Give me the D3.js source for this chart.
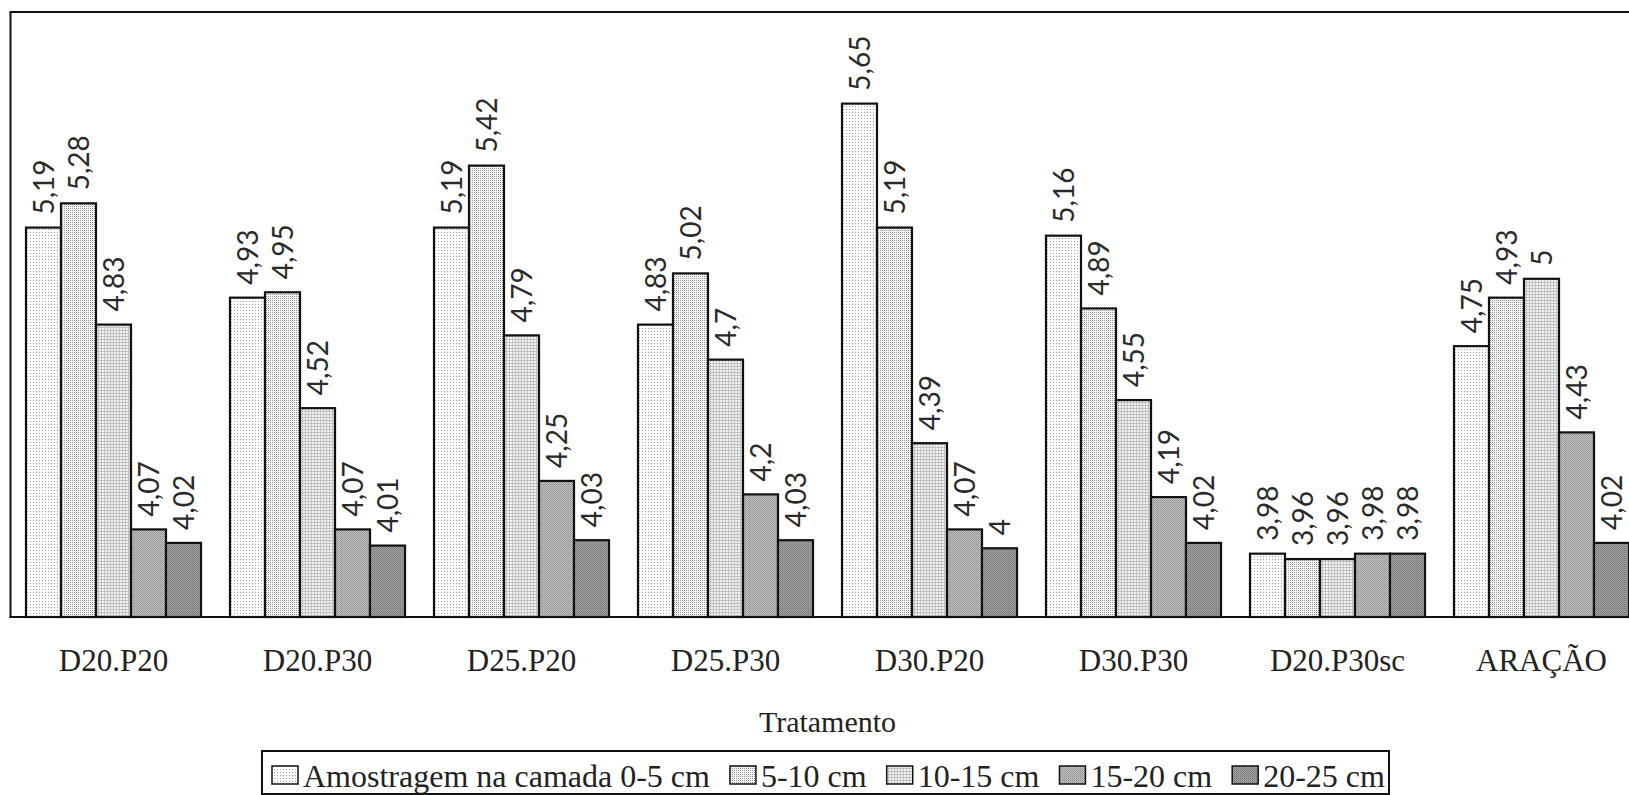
<!DOCTYPE html>
<html>
<head>
<meta charset="utf-8">
<script src="https://cdn.jsdelivr.net/npm/d3@7"></script>
<style>
  body { margin: 0; background: #fff; }
  svg { display: block; }
</style>
</head>
<body>
<svg id="chart" width="1629" height="795"></svg>
<script>
// data
var categories = ["D20.P20", "D20.P30", "D25.P20", "D25.P30", "D30.P20", "D30.P30", "D20.P30sc", "ARAÇÃO"];
var seriesNames = ["Amostragem na camada 0-5 cm", "5-10 cm", "10-15 cm", "15-20 cm", "20-25 cm"];
var layer0_5 = [5.19, 4.93, 5.19, 4.83, 5.65, 5.16, 3.98, 4.75];
var layer5_10 = [5.28, 4.95, 5.42, 5.02, 5.19, 4.89, 3.96, 4.93];
var layer10_15 = [4.83, 4.52, 4.79, 4.70, 4.39, 4.55, 3.96, 5.00];
var layer15_20 = [4.07, 4.07, 4.25, 4.20, 4.07, 4.19, 3.98, 4.43];
var layer20_25 = [4.02, 4.01, 4.03, 4.03, 4.00, 4.02, 3.98, 4.02];
var xTitle = "Tratamento";

var seriesValues = [layer0_5, layer5_10, layer10_15, layer15_20, layer20_25];

var svg = d3.select("#chart"),
    plotTop = 12, plotBottom = 617, plotLeft = 10.5;

var x = d3.scaleBand()
    .domain(categories)
    .range([plotLeft + 1, plotLeft + 1 + 8 * 204])
    .paddingInner(0.142)
    .paddingOuter(0.071);

var xs = d3.scaleBand()
    .domain(d3.range(seriesNames.length))
    .range([0, x.bandwidth()]);

var y = d3.scaleLinear()
    .domain([3.745, 5.99])
    .range([plotBottom, plotTop]);

// fill patterns (halftone-ish greys)
var defs = svg.append("defs");
function pat(id, size, bg, dots) {
  var p = defs.append("pattern")
      .attr("id", id)
      .attr("patternUnits", "userSpaceOnUse")
      .attr("width", size).attr("height", size);
  p.append("rect").attr("width", size).attr("height", size).attr("fill", bg);
  dots.forEach(function(d) {
    p.append("rect").attr("x", d[0]).attr("y", d[1])
        .attr("width", d[2]).attr("height", d[3]).attr("fill", d[4]);
  });
}
pat("p0", 3, "#fff", [[1, 1, 1, 1, "#a0a0a0"]]);
pat("p1", 2, "#fff", [[0, 0, 1, 1, "#8e8e8e"], [1, 1, 1, 1, "#eaeaea"]]);
pat("p2", 3, "#f4f4f4", [[0, 0, 3, 1, "#c0c0c0"], [0, 0, 1, 3, "#c0c0c0"]]);
pat("p3", 2, "#c4c4c4", [[0, 0, 1, 1, "#8a8a8a"], [1, 1, 1, 1, "#a0a0a0"]]);
pat("p4", 2, "#a8a8a8", [[0, 0, 1, 1, "#6e6e6e"], [1, 1, 1, 1, "#848484"]]);

// bars
var groups = svg.append("g").selectAll("g")
  .data(categories)
  .enter().append("g")
    .attr("transform", function(d) { return "translate(" + x(d) + ",0)"; });

groups.selectAll("rect")
  .data(function(d, i) { return seriesValues.map(function(s, j) { return {s: j, v: s[i]}; }); })
  .enter().append("rect")
    .attr("x", function(d) { return xs(d.s); })
    .attr("y", function(d) { return y(d.v); })
    .attr("width", xs.bandwidth())
    .attr("height", function(d) { return plotBottom - y(d.v); })
    .attr("fill", function(d) { return "url(#p" + d.s + ")"; })
    .attr("stroke", "#111")
    .attr("stroke-width", 2.2);

groups.selectAll("text")
  .data(function(d, i) { return seriesValues.map(function(s, j) { return {s: j, v: s[i]}; }); })
  .enter().append("text")
    .attr("transform", function(d) {
      return "translate(" + (xs(d.s) + xs.bandwidth() / 2) + "," + (y(d.v) - 13) + ") rotate(-90)";
    })
    .attr("dy", "0.36em")
    .attr("font-family", "Lato, 'Open Sans', sans-serif")
    .attr("font-size", 28)
    .attr("fill", "#2a2a2a")
    .text(function(d) { return String(d.v).replace(".", ","); });

// frame
var frame = svg.append("g").attr("stroke", "#111").attr("stroke-width", 2);
frame.append("line").attr("x1", plotLeft).attr("x2", plotLeft).attr("y1", plotTop).attr("y2", plotBottom + 1);
frame.append("line").attr("x1", plotLeft - 1).attr("x2", 1629).attr("y1", plotTop).attr("y2", plotTop);
frame.append("line").attr("x1", plotLeft - 1).attr("x2", 1629).attr("y1", plotBottom).attr("y2", plotBottom);

// category labels
svg.append("g").selectAll("text")
  .data(categories)
  .enter().append("text")
    .attr("x", function(d) { return x(d) + x.bandwidth() / 2; })
    .attr("y", 671)
    .attr("text-anchor", "middle")
    .attr("font-family", "'Liberation Serif', 'Times New Roman', serif")
    .attr("font-size", 31)
    .attr("fill", "#222")
    .text(function(d) { return d; });

svg.append("text")
    .attr("x", (x.range()[0] + x.range()[1]) / 2)
    .attr("y", 732)
    .attr("text-anchor", "middle")
    .attr("font-family", "'Liberation Serif', 'Times New Roman', serif")
    .attr("font-size", 30)
    .attr("fill", "#222")
    .text(xTitle);

// legend
var legend = svg.append("g");
legend.append("rect")
    .attr("x", 262).attr("y", 751)
    .attr("width", 1127).attr("height", 43)
    .attr("fill", "none").attr("stroke", "#111").attr("stroke-width", 2);

var lx = 272;
seriesNames.forEach(function(name, i) {
  legend.append("rect")
      .attr("x", lx).attr("y", 766)
      .attr("width", 26).attr("height", 18)
      .attr("fill", "url(#p" + i + ")")
      .attr("stroke", "#111").attr("stroke-width", 1.5);
  var t = legend.append("text")
      .attr("x", lx + 31).attr("y", 787)
      .attr("font-family", "'Liberation Serif', 'Times New Roman', serif")
      .attr("font-size", 32)
      .attr("fill", "#222")
      .text(name);
  lx += 31 + t.node().getComputedTextLength() + 20;
});
</script>
</body>
</html>
